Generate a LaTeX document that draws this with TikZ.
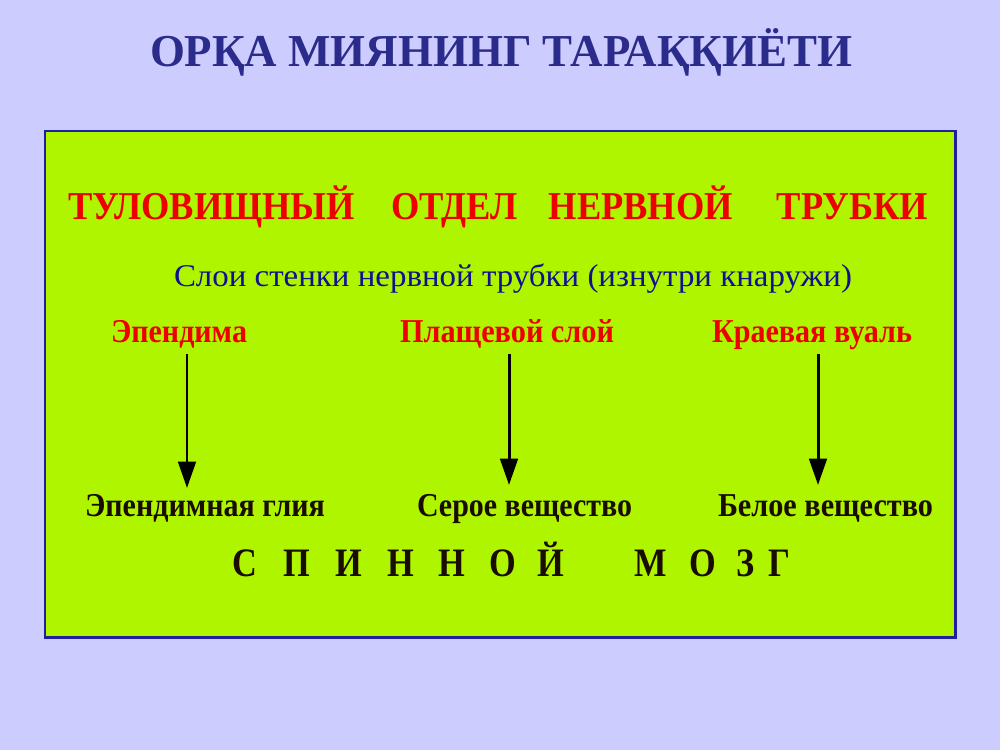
\documentclass[tikz,border=0pt]{standalone}
\usepackage{fontspec}
\setmainfont{Liberation Serif}
\usepackage{graphicx}
\usetikzlibrary{arrows.meta}
\newlength\pxu
\setlength\pxu{0.02cm}
\newcommand\fitw[2]{\resizebox{#1\pxu}{\height}{#2}}
\definecolor{bgc}{HTML}{CCCCFF}
\definecolor{panel}{HTML}{AFF500}
\definecolor{edge}{HTML}{1F1FA0}
\definecolor{titlec}{HTML}{2B2B8C}
\definecolor{redc}{HTML}{EE0000}
\definecolor{bluec}{HTML}{101090}
\definecolor{darkc}{HTML}{1A0D00}
\tikzset{
  txt/.style={anchor=base west, inner sep=0pt, outer sep=0pt},
  lab/.style={txt, font=\bfseries\fontsize{19}{22}\selectfont},
  letter/.style={anchor=base, inner sep=0pt, font=\bfseries\fontsize{23}{26}\selectfont, text=darkc, xscale=0.85},
  down/.style={-{Triangle[width=10pt,length=15pt]}, line width=1.7pt, draw=black}
}
\begin{document}
\begin{tikzpicture}[x=0.02cm, y=-0.02cm]
\fill[bgc] (0,0) rectangle (1000,750);
\useasboundingbox (0,0) rectangle (1000,750);
\draw[fill=panel, draw=edge, line width=1.7pt] (45,131) rectangle (955,637);
% title
\node[txt, text=titlec, font=\bfseries\fontsize{26}{30}\selectfont] (title) at (150,67)
  {\fitw{702}{ОРҚА МИЯНИНГ ТАРАҚҚИЁТИ}};
% heading
\node[txt, text=redc, font=\bfseries\fontsize{22.5}{26}\selectfont] (head) at (68,219)
  {\fitw{860}{ТУЛОВИЩНЫЙ\hspace{1.0em}ОТДЕЛ\hspace{0.85em}НЕРВНОЙ\hspace{1.2em}ТРУБКИ}};
% subtitle
\node[txt, text=bluec, font=\fontsize{18}{21}\selectfont] (sub) at (174,286)
  {\fitw{678}{Слои стенки нервной трубки (изнутри кнаружи)}};
% layer labels
\node[lab, text=redc] (l1) at (111,342) {\fitw{136}{Эпендима}};
\node[lab, text=redc] (l2) at (400,342) {\fitw{214}{Плащевой слой}};
\node[lab, text=redc] (l3) at (712,342) {\fitw{200}{Краевая вуаль}};
% result labels
\node[lab, text=darkc] (r1) at (85,516) {\fitw{240}{Эпендимная глия}};
\node[lab, text=darkc] (r2) at (417,516) {\fitw{215}{Серое вещество}};
\node[lab, text=darkc] (r3) at (718,516) {\fitw{215}{Белое вещество}};
% arrows
\coordinate (a1s) at (187,354); \coordinate (a1e) at (187,488);
\coordinate (a2s) at (509,354); \coordinate (a2e) at (509,485);
\coordinate (a3s) at (818,354); \coordinate (a3e) at (818,485);
\draw[down] (a1s) -- (a1e);
\draw[down] (a2s) -- (a2e);
\draw[down] (a3s) -- (a3e);
% spinal cord
\node[letter] (s1) at (245,576) {С};
\node[letter] (s2) at (297,576) {П};
\node[letter] (s3) at (349,576) {И};
\node[letter] (s4) at (401,576) {Н};
\node[letter] (s5) at (452,576) {Н};
\node[letter] (s6) at (503,576) {О};
\node[letter] (s7) at (551,576) {Й};
\node[letter] (s8) at (651,576) {М};
\node[letter] (s9) at (703,576) {О};
\node[letter] (s10) at (746,576) {З};
\node[letter] (s11) at (779,576) {Г};
\end{tikzpicture}
\end{document}
